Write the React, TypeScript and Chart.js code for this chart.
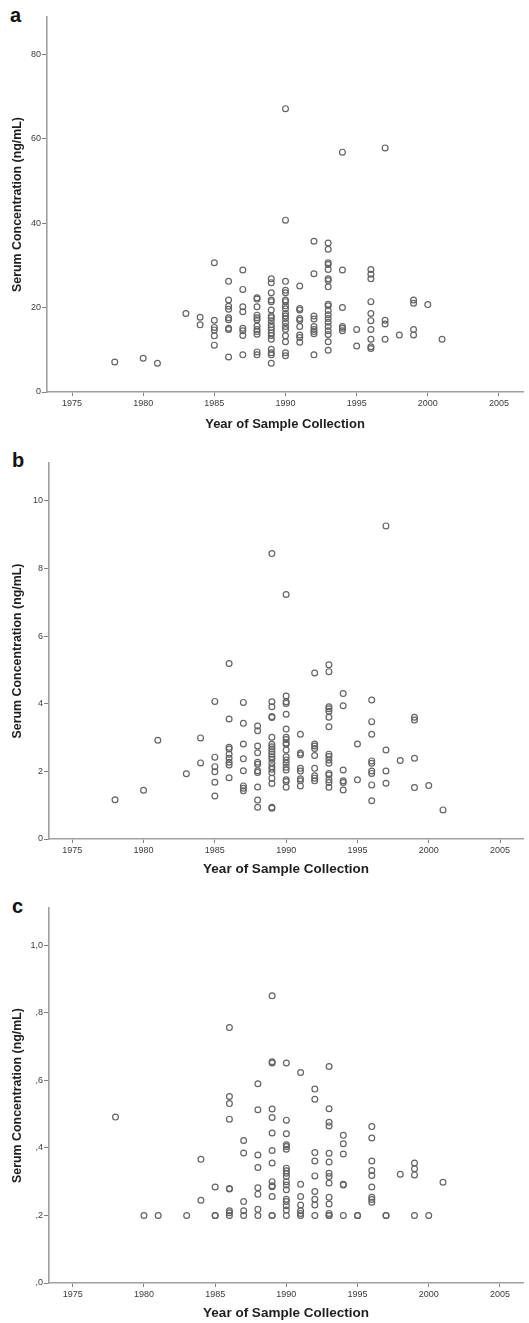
import React, { useEffect, useRef } from "react";
import { Chart, registerables } from "chart.js";

Chart.register(...registerables);

// Sample years present in every panel
const years = [1978, 1980, 1981, 1983, 1984, 1985, 1986, 1987, 1988, 1989, 1990, 1991, 1992, 1993, 1994, 1995, 1996, 1997, 1998, 1999, 2000, 2001];
const xTickYears = [1975, 1980, 1985, 1990, 1995, 2000, 2005];

// Panel a – serum concentration (ng/mL), one list per year
const serumA = [
  [7.1],
  [8.0],
  [6.8],
  [18.6],
  [17.7, 15.9],
  [30.6, 17.0, 15.3, 14.7, 13.3, 11.1],
  [26.2, 21.8, 20.3, 19.6, 17.6, 17.1, 15.1, 14.8, 8.3],
  [28.9, 24.3, 20.2, 19.0, 15.1, 14.5, 13.4, 8.8],
  [22.3, 22.0, 20.2, 18.2, 17.6, 17.1, 15.6, 14.8, 14.3, 13.7, 9.5, 8.8],
  [26.8, 25.9, 23.5, 21.8, 21.4, 19.4, 18.0, 17.6, 16.9, 15.9, 15.3, 14.7, 14.0, 13.4, 12.5, 10.1, 9.3, 8.8, 6.8],
  [67.1, 40.7, 26.2, 24.1, 23.5, 21.8, 21.4, 20.4, 19.7, 18.6, 18.0, 17.4, 16.4, 15.5, 14.8, 13.3, 11.9, 9.3, 8.6],
  [25.1, 19.8, 19.4, 17.4, 17.0, 15.5, 13.5, 12.9, 11.8],
  [35.7, 28.0, 18.0, 17.3, 15.5, 14.8, 14.3, 13.8, 8.8],
  [35.3, 33.8, 30.6, 30.2, 29.0, 26.8, 26.4, 24.9, 20.8, 20.4, 19.3, 18.3, 17.4, 16.5, 15.5, 14.5, 13.6, 11.9, 9.9],
  [56.8, 28.9, 20.0, 15.5, 15.1, 14.5],
  [14.8, 10.9],
  [29.0, 27.9, 26.8, 21.4, 18.6, 16.9, 14.8, 12.5, 10.7, 10.3],
  [57.8, 17.0, 16.1, 12.5],
  [13.5],
  [21.8, 21.0, 14.8, 13.5],
  [20.7],
  [12.5],
];

// Panel b
const serumB = [
  [1.16],
  [1.44],
  [2.92],
  [1.93],
  [2.99, 2.25],
  [4.07, 2.42, 2.14, 1.99, 1.68, 1.27],
  [5.19, 3.55, 2.71, 2.66, 2.51, 2.39, 2.27, 2.19, 1.81],
  [4.04, 3.42, 2.81, 2.37, 2.02, 1.57, 1.5, 1.43],
  [3.34, 3.2, 2.75, 2.55, 2.27, 2.21, 2.02, 1.97, 1.54, 1.15, 0.94],
  [8.44, 4.06, 3.91, 3.62, 3.59, 3.01, 2.8, 2.73, 2.66, 2.58, 2.51, 2.43, 2.36, 2.24, 2.14, 2.06, 1.96, 1.8, 1.64, 0.94, 0.91],
  [7.23, 4.23, 4.06, 4.01, 3.69, 3.25, 3.01, 2.94, 2.84, 2.8, 2.63, 2.43, 2.34, 2.24, 2.12, 2.04, 1.75, 1.7, 1.53],
  [3.1, 2.54, 2.49, 2.09, 2.01, 1.78, 1.72, 1.57],
  [4.91, 2.81, 2.75, 2.68, 2.47, 2.09, 1.87, 1.8, 1.72],
  [5.15, 4.95, 3.91, 3.85, 3.78, 3.6, 3.32, 2.51, 2.44, 2.34, 2.24, 1.94, 1.89, 1.75, 1.67, 1.53],
  [4.3, 3.94, 2.04, 1.72, 1.67, 1.45],
  [2.81, 1.75],
  [4.11, 3.47, 3.1, 2.31, 2.24, 2.01, 1.94, 1.6, 1.13],
  [9.26, 2.63, 2.01, 1.65],
  [2.32],
  [3.6, 3.52, 2.39, 1.52],
  [1.58],
  [0.86],
];

// Panel c
const serumC = [
  [0.491],
  [0.2],
  [0.2],
  [0.2],
  [0.366, 0.245],
  [0.284, 0.2, 0.2],
  [0.756, 0.552, 0.531, 0.485, 0.28, 0.278, 0.214, 0.208, 0.2],
  [0.422, 0.385, 0.241, 0.214, 0.2],
  [0.59, 0.513, 0.379, 0.342, 0.282, 0.263, 0.218, 0.2],
  [0.85, 0.655, 0.651, 0.515, 0.49, 0.444, 0.392, 0.355, 0.3, 0.288, 0.285, 0.256, 0.2, 0.2],
  [0.651, 0.482, 0.442, 0.409, 0.404, 0.396, 0.34, 0.332, 0.325, 0.315, 0.3, 0.29, 0.276, 0.248, 0.241, 0.229, 0.216, 0.2],
  [0.623, 0.292, 0.256, 0.231, 0.214, 0.206, 0.2],
  [0.574, 0.544, 0.386, 0.361, 0.317, 0.271, 0.248, 0.231, 0.2],
  [0.641, 0.516, 0.476, 0.465, 0.384, 0.358, 0.325, 0.315, 0.296, 0.254, 0.234, 0.206, 0.2, 0.2],
  [0.437, 0.412, 0.382, 0.292, 0.29, 0.2],
  [0.2, 0.2],
  [0.463, 0.429, 0.361, 0.333, 0.318, 0.284, 0.254, 0.247, 0.239],
  [0.2, 0.2],
  [0.322],
  [0.355, 0.338, 0.32, 0.2],
  [0.2],
  [0.298],
];

const yTicksA = [0, 20, 40, 60, 80];
const yLabelsA = ["0", "20", "40", "60", "80"];
const yTicksB = [0, 2, 4, 6, 8, 10];
const yLabelsB = ["0", "2", "4", "6", "8", "10"];
const yTicksC = [0, 0.2, 0.4, 0.6, 0.8, 1.0];
const yLabelsC = [",0", ",2", ",4", ",6", ",8", "1,0"];

const X_TITLE = "Year of Sample Collection";
const Y_TITLE = "Serum Concentration (ng/mL)";
const FONT = 'Arial, "Liberation Sans", Helvetica, sans-serif';

type PanelProps = {
  letter: string;
  top: number;
  height: number;
  values: number[][];
  yTicks: number[];
  yLabels: string[];
  yMax: number;
  xMin: number;
  xMax: number;
  padTop: number;
  yWidth: number;
  xHeight: number;
  xTitleSize: number;
  xTitlePad: number;
  letterTop: number;
  letterLeft: number;
};

function Panel(p: PanelProps) {
  const ref = useRef<HTMLCanvasElement | null>(null);
  useEffect(() => {
    if (!ref.current) return;
    const data = years.flatMap((yr, i) => p.values[i].map((v) => ({ x: yr, y: v })));
    const chart = new Chart(ref.current, {
      type: "scatter",
      data: {
        datasets: [
          {
            data,
            pointStyle: "circle",
            pointRadius: 2.9,
            pointBorderWidth: 1.2,
            pointBorderColor: "#646464",
            pointBackgroundColor: "rgba(0,0,0,0)",
            pointHoverRadius: 2.9,
          },
        ],
      },
      options: {
        responsive: false,
        animation: false,
        events: [],
        layout: { padding: { top: p.padTop, right: 6, left: 0, bottom: 0 } },
        plugins: { legend: { display: false }, tooltip: { enabled: false } },
        scales: {
          x: {
            type: "linear",
            min: p.xMin,
            max: p.xMax,
            afterBuildTicks: (s: any) => {
              s.ticks = xTickYears.map((v) => ({ value: v }));
            },
            afterFit: (s: any) => {
              s.height = p.xHeight;
            },
            ticks: {
              callback: (v: any) => String(v),
              font: { family: FONT, size: 9 },
              color: "#3a3a3a",
              padding: 2,
              maxRotation: 0,
              autoSkip: false,
            },
            grid: { display: true, drawOnChartArea: false, drawTicks: true, tickLength: 4, color: "#808080", lineWidth: 1 },
            border: { display: true, color: "#a0a0a0", width: 1.6 },
            title: {
              display: true,
              text: X_TITLE,
              font: { family: FONT, size: p.xTitleSize, weight: "bold" },
              color: "#1e1e1e",
              padding: { top: 0, bottom: p.xTitlePad },
            },
          },
          y: {
            type: "linear",
            min: 0,
            max: p.yMax,
            afterBuildTicks: (s: any) => {
              s.ticks = p.yTicks.map((v) => ({ value: v }));
            },
            afterFit: (s: any) => {
              s.width = p.yWidth;
            },
            ticks: {
              callback: (_v: any, i: number) => p.yLabels[i],
              font: { family: FONT, size: 9 },
              color: "#3a3a3a",
              padding: 1,
              autoSkip: false,
            },
            grid: { display: true, drawOnChartArea: false, drawTicks: true, tickLength: 5, color: "#808080", lineWidth: 1 },
            border: { display: true, color: "#a0a0a0", width: 1.6 },
            title: {
              display: true,
              text: Y_TITLE,
              font: { family: FONT, size: 12.4, weight: "bold" },
              color: "#1e1e1e",
              padding: { top: 10, bottom: 0 },
            },
          },
        },
      } as any,
    });
    return () => chart.destroy();
  }, []);
  return (
    <>
      <div
        style={{
          position: "absolute",
          left: p.letterLeft,
          top: p.letterTop,
          fontFamily: FONT,
          fontWeight: "bold",
          fontSize: 20,
          lineHeight: "20px",
          color: "#111",
        }}
      >
        {p.letter}
      </div>
      <canvas
        ref={ref}
        width={529}
        height={p.height}
        style={{ position: "absolute", left: 0, top: p.top, width: 529, height: p.height, display: "block" }}
      />
    </>
  );
}

export default function App() {
  return (
    <div style={{ position: "absolute", left: 0, top: 0, width: 529, height: 1323, background: "#fff", overflow: "hidden" }}>
      <Panel
        letter="a"
        top={0}
        height={436}
        values={serumA}
        yTicks={yTicksA}
        yLabels={yLabelsA}
        yMax={88.8}
        xMin={1973.24}
        xMax={2006.69}
        padTop={17}
        yWidth={47}
        xHeight={44}
        xTitleSize={13}
        xTitlePad={4}
        letterTop={5}
        letterLeft={10}
      />
      <Panel
        letter="b"
        top={437}
        height={443}
        values={serumB}
        yTicks={yTicksB}
        yLabels={yLabelsB}
        yMax={11.12}
        xMin={1973.37}
        xMax={2006.61}
        padTop={26}
        yWidth={49}
        xHeight={41}
        xTitleSize={13.5}
        xTitlePad={3}
        letterTop={450}
        letterLeft={12}
      />
      <Panel
        letter="c"
        top={880}
        height={443}
        values={serumC}
        yTicks={yTicksC}
        yLabels={yLabelsC}
        yMax={1.11}
        xMin={1973.33}
        xMax={2006.62}
        padTop={28}
        yWidth={49}
        xHeight={40}
        xTitleSize={13.5}
        xTitlePad={2}
        letterTop={896}
        letterLeft={12}
      />
    </div>
  );
}
